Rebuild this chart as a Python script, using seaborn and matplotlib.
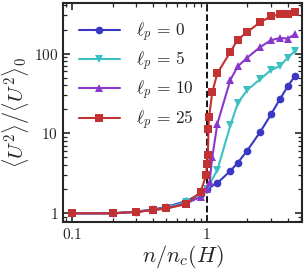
import numpy as np
import pandas as pd
import matplotlib
matplotlib.use('Agg')
import matplotlib.pyplot as plt
import matplotlib.ticker as mticker
import seaborn as sns

# n / n_c(H) sample points and <U^2>/<U^2>_0 for each persistence length
x_lp0 = [0.1, 0.2, 0.3, 0.4, 0.5, 0.7, 0.9, 1.0, 1.2, 1.5, 1.7, 2.0, 2.5, 3.0, 3.5, 4.0, 4.5]
y_lp0 = [1.0, 1.0, 1.05, 1.12, 1.2, 1.42, 1.75, 2.0, 2.4, 3.4, 4.3, 6.1, 10.5, 17.3, 27, 39, 52]

x_lp5 = [0.1, 0.2, 0.3, 0.4, 0.5, 0.7, 0.9, 1.0, 1.2, 1.5, 1.7, 2.0, 2.5, 3.0, 3.5, 4.0, 4.5]
y_lp5 = [1.0, 1.0, 1.05, 1.1, 1.18, 1.38, 1.7, 2.0, 3.5, 12.7, 24, 35, 48, 62, 70, 89, 107]

x_lp10 = [0.1, 0.2, 0.3, 0.4, 0.5, 0.7, 0.9, 1.0, 1.05, 1.1, 1.2, 1.5, 1.7, 2.0, 2.5, 3.0, 3.5, 4.0, 4.5]
y_lp10 = [1.0, 1.0, 1.04, 1.1, 1.15, 1.33, 1.6, 2.0, 2.45, 5.1, 13.3, 47, 69, 89, 121, 147, 157, 154, 174]

x_lp25 = [0.1, 0.2, 0.3, 0.4, 0.5, 0.7, 0.9, 0.99, 1.0, 1.02, 1.03, 1.04, 1.1, 1.2, 1.5, 1.7, 2.0, 2.5, 3.0, 3.5, 4.0, 4.5]
y_lp25 = [1.0, 1.0, 1.04, 1.1, 1.15, 1.3, 1.86, 3.0, 4.1, 5.35, 11.3, 16, 33, 57, 105, 150, 186, 248, 292, 310, 316, 331]

labels = [r'$\ell_p\,=\,0$', r'$\ell_p\,=\,5$', r'$\ell_p\,=\,10$', r'$\ell_p\,=\,25$']
colors = ['#3838c4', '#3cc0c0', '#8a38cc', '#c23232']
markers = ['o', 'v', '^', 's']

frames = []
for lab, xs, ys in zip(labels, [x_lp0, x_lp5, x_lp10, x_lp25], [y_lp0, y_lp5, y_lp10, y_lp25]):
    frames.append(pd.DataFrame({'n': xs, 'U2': ys, 'lp': lab}))
df = pd.concat(frames, ignore_index=True)

sns.set_style('ticks')
plt.rcParams['font.family'] = ['DejaVu Serif']
plt.rcParams['mathtext.fontset'] = 'cm'

fig = plt.figure(figsize=(3.06, 2.70), dpi=100)
ax = fig.add_axes([0.206, 0.178, 0.781, 0.811])

sns.lineplot(data=df, x='n', y='U2', hue='lp', style='lp', hue_order=labels, style_order=labels,
             palette=dict(zip(labels, colors)), markers=dict(zip(labels, markers)),
             dashes=False, markersize=5.5, markeredgewidth=0, linewidth=1.5, ax=ax, sort=True)

ax.axvline(1.0, color='black', linestyle='--', linewidth=1.3, zorder=0)

ax.set_xscale('log')
ax.set_yscale('log')
ax.set_xlim(0.0857, 5.1)
ax.set_ylim(0.78, 430)

fmt = mticker.FuncFormatter(lambda v, p: r'$%g$' % v)
ax.xaxis.set_major_formatter(fmt)
ax.yaxis.set_major_formatter(fmt)
ax.xaxis.set_minor_formatter(mticker.NullFormatter())
ax.yaxis.set_minor_formatter(mticker.NullFormatter())

ax.tick_params(which='both', direction='in', top=True, right=True, labelsize=11)
ax.tick_params(which='major', length=5, width=1.2)
ax.tick_params(which='minor', length=3, width=0.9)
for s in ax.spines.values():
    s.set_linewidth(1.5)

ax.set_xlabel(r'$n\left/n_c(H)\right.$', fontsize=16, labelpad=1)
ax.set_ylabel(r'$\left.\langle U^2\rangle\right/\langle U^2\rangle_0$', fontsize=15, labelpad=2)

leg = ax.legend(loc='upper left', frameon=False, fontsize=12.5, handlelength=2.4,
                labelspacing=0.35, borderaxespad=0.5, handletextpad=0.9,
                bbox_to_anchor=(0.0, 0.99))

fig.savefig('out.png', dpi=100)
